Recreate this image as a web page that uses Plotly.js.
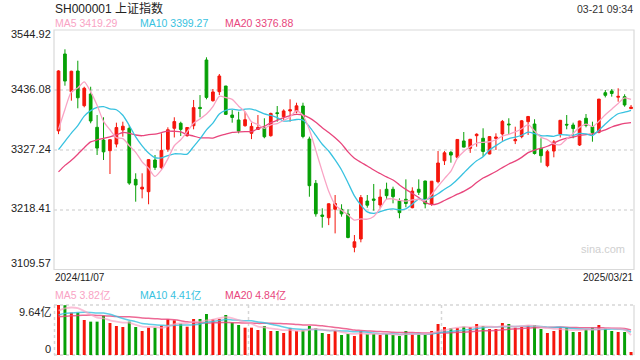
<!DOCTYPE html>
<html>
<head>
<meta charset="utf-8">
<script src="https://cdn.plot.ly/plotly-3.0.1.min.js"></script>
<style>html,body{margin:0;padding:0;background:#fff;}#chart{width:640px;height:360px;}</style>
</head>
<body>
<div id="chart"></div>
<script>
// ---- data ----
const dates = ["2024/11/07","2024/11/08","2024/11/11","2024/11/12","2024/11/13","2024/11/14","2024/11/15","2024/11/18","2024/11/19","2024/11/20",
"2024/11/21","2024/11/22","2024/11/25","2024/11/26","2024/11/27","2024/11/28","2024/11/29","2024/12/02","2024/12/03","2024/12/04",
"2024/12/05","2024/12/06","2024/12/09","2024/12/10","2024/12/11","2024/12/12","2024/12/13","2024/12/16","2024/12/17","2024/12/18",
"2024/12/19","2024/12/20","2024/12/23","2024/12/24","2024/12/25","2024/12/26","2024/12/27","2024/12/30","2024/12/31","2025/01/02",
"2025/01/03","2025/01/06","2025/01/07","2025/01/08","2025/01/09","2025/01/10","2025/01/13","2025/01/14","2025/01/15","2025/01/16",
"2025/01/17","2025/01/20","2025/01/21","2025/01/22","2025/01/23","2025/01/24","2025/01/27","2025/02/05","2025/02/06","2025/02/07",
"2025/02/10","2025/02/11","2025/02/12","2025/02/13","2025/02/14","2025/02/17","2025/02/18","2025/02/19","2025/02/20","2025/02/21",
"2025/02/24","2025/02/25","2025/02/26","2025/02/27","2025/02/28","2025/03/03","2025/03/04","2025/03/05","2025/03/06","2025/03/07",
"2025/03/10","2025/03/11","2025/03/12","2025/03/13","2025/03/14","2025/03/17","2025/03/18","2025/03/19","2025/03/20","2025/03/21"];

const opens = [3362.0,3501.4,3433.0,3470.5,3407.6,3428.8,3368.4,3345.4,3326.0,3338.0,
3363.5,3366.6,3274.0,3256.5,3251.6,3309.1,3295.2,3328.5,3366.6,3375.7,
3353.2,3371.3,3404.5,3490.5,3416.7,3433.0,3443.3,3390.7,3381.7,3371.3,
3357.5,3364.6,3367.7,3353.2,3394.8,3387.7,3398.0,3396.7,3407.0,3347.2,
3266.8,3209.3,3204.4,3219.7,3219.7,3211.2,3150.8,3165.8,3234.7,3238.4,
3227.5,3256.0,3256.0,3234.7,3237.8,3222.6,3256.0,3271.0,3228.8,3269.8,
3307.8,3323.0,3314.0,3343.6,3330.3,3353.2,3348.5,3320.0,3348.3,3356.3,
3374.4,3344.0,3351.4,3378.6,3374.4,3330.3,3298.8,3325.4,3356.3,3373.8,
3372.6,3336.3,3384.8,3369.5,3359.3,3431.2,3434.3,3423.0,3424.0,3402.3];

const highs = [3472.0,3509.9,3471.0,3489.2,3442.0,3442.0,3390.7,3386.6,3346.6,3376.8,
3378.6,3372.6,3285.0,3285.0,3310.4,3318.2,3357.5,3368.4,3386.6,3378.6,
3368.4,3418.0,3426.9,3495.4,3437.9,3465.1,3443.5,3399.8,3396.7,3396.7,
3376.8,3390.7,3384.8,3395.0,3407.0,3401.0,3419.2,3413.0,3413.0,3351.4,
3272.8,3221.5,3230.5,3245.6,3228.8,3219.7,3173.0,3245.6,3245.6,3265.6,
3256.0,3268.0,3260.7,3239.6,3274.0,3259.6,3274.0,3271.5,3270.9,3325.4,
3325.4,3325.4,3346.6,3359.9,3346.9,3357.5,3366.6,3352.6,3357.5,3381.7,
3384.8,3369.5,3381.7,3389.0,3383.0,3348.5,3327.3,3345.4,3381.7,3390.7,
3376.8,3380.5,3392.5,3378.6,3419.9,3436.1,3437.9,3439.2,3428.3,3408.9];

const lows = [3356.0,3443.9,3416.7,3402.9,3404.7,3375.7,3318.2,3309.1,3283.7,3332.0,
3351.4,3264.0,3233.5,3239.6,3228.8,3291.0,3292.0,3324.0,3350.0,3352.6,
3351.4,3364.8,3386.6,3419.2,3414.9,3427.0,3390.7,3376.8,3357.5,3369.5,
3347.0,3363.5,3348.5,3351.4,3378.6,3381.7,3378.6,3393.8,3348.5,3242.5,
3206.3,3186.3,3191.0,3176.0,3206.3,3167.0,3141.7,3159.8,3222.6,3217.2,
3221.5,3237.8,3230.5,3203.4,3223.3,3221.5,3245.6,3221.5,3226.0,3266.8,
3300.0,3304.2,3312.0,3332.0,3322.0,3333.2,3315.0,3319.5,3327.3,3344.0,
3356.3,3338.0,3348.5,3354.5,3319.0,3304.2,3296.0,3314.0,3350.0,3364.8,
3348.5,3334.5,3368.4,3342.3,3357.5,3422.7,3424.0,3414.9,3405.8,3401.8];

const closes = [3470.66,3452.30,3470.07,3421.97,3439.28,3379.84,3330.73,3323.85,3346.01,3367.99,
3370.40,3267.19,3263.76,3259.76,3309.78,3295.70,3326.46,3363.98,3378.81,3364.65,
3368.07,3404.08,3402.53,3422.66,3432.49,3461.50,3391.88,3386.33,3361.49,3382.21,
3370.03,3368.07,3351.26,3393.53,3393.35,3398.08,3400.14,3407.33,3351.76,3262.56,
3211.43,3206.92,3229.64,3230.17,3211.39,3168.52,3160.76,3240.94,3227.12,3236.03,
3241.82,3244.38,3242.62,3213.62,3230.16,3252.63,3250.60,3229.49,3270.66,3303.67,
3322.17,3318.06,3346.39,3332.48,3346.72,3355.83,3324.49,3351.54,3350.78,3379.11,
3373.03,3346.04,3380.21,3388.06,3320.90,3316.93,3324.21,3341.96,3381.10,3372.55,
3366.16,3379.83,3371.92,3358.73,3419.56,3426.43,3429.76,3424.50,3408.95,3404.90];

// closes of the 19 sessions before the first candle (feed the moving averages)
const prevCloses = [3217.74,3284.32,3201.29,3202.95,3169.38,3261.56,3268.11,3285.87,3302.80,3280.26,
3299.70,3322.20,3286.41,3266.24,3279.82,3272.01,3310.21,3386.99,3383.81];

// volume in 亿
const volumes = [9.64,9.60,8.16,8.16,6.75,6.43,6.43,7.58,6.17,5.59,
5.40,6.43,5.40,4.63,5.27,5.27,5.66,6.88,6.68,6.04,
5.46,6.94,6.94,7.90,6.88,6.94,7.71,6.23,5.78,5.27,
5.27,4.82,5.59,4.63,4.63,4.24,5.14,4.63,4.76,5.59,
5.14,4.24,4.05,4.69,3.86,4.05,3.66,4.63,4.05,4.05,
3.86,4.05,3.86,3.66,4.63,3.98,3.98,3.98,4.63,5.98,
5.40,5.14,5.20,5.46,5.40,5.98,5.59,5.01,5.01,6.17,
5.98,5.27,5.40,5.66,5.78,5.01,4.24,4.63,5.33,5.27,
4.43,4.43,5.01,5.27,5.78,5.14,4.63,4.43,4.43,0.58];
const prevVolumes = [7.5,6.8,6.6,6.0,5.8,8.0,8.3,7.5,7.4,6.3,6.6,7.2,7.4,6.3,6.9,7.6,7.2,8.8,9.6];

const priceTicks = [3544.92,3436.08,3327.24,3218.41,3109.57];
const priceTickText = ["3544.92","3436.08","3327.24","3218.41","3109.57"];
const volTicks = [9.64, 0];
const volTickText = ["9.64亿","0"];
const titleText = "SH000001 上证指数";
const timeText = "03-21 09:34";
const maLabels = ["MA5 3419.29","MA10 3399.27","MA20 3376.88"];
const volMaLabels = ["MA5 3.82亿","MA10 4.41亿","MA20 4.84亿"];

// ---- styling ----
const RED = "#f5160c", GREEN = "#06a006";
const C_MA5 = "#f9a3c4", C_MA10 = "#38c2e0", C_MA20 = "#e8457c";
const FONT = "'Liberation Sans', Arial, 'Noto Sans CJK SC', sans-serif";
const W = 640, H = 360;
const px = v => v / W, py = v => 1 - v / H;

function movingAvg(vals, prev, n) {
  const all = prev.concat(vals), off = prev.length;
  return vals.map((_, i) => {
    let s = 0;
    for (let k = 0; k < n; k++) s += all[off + i - k];
    return s / n;
  });
}

const volColors = closes.map((c, i) => c >= opens[i] ? RED : GREEN);

const traces = [
  {type: "candlestick", x: dates, open: opens, high: highs, low: lows, close: closes,
   xaxis: "x", yaxis: "y", hoverinfo: "skip", whiskerwidth: 0,
   increasing: {line: {color: RED, width: 1}, fillcolor: RED},
   decreasing: {line: {color: GREEN, width: 1}, fillcolor: GREEN}},
  {type: "scatter", mode: "lines", x: dates, y: movingAvg(closes, prevCloses, 20), xaxis: "x", yaxis: "y",
   line: {color: C_MA20, width: 1.3, shape: "spline", smoothing: 0.7}},
  {type: "scatter", mode: "lines", x: dates, y: movingAvg(closes, prevCloses, 10), xaxis: "x", yaxis: "y",
   line: {color: C_MA10, width: 1.3, shape: "spline", smoothing: 0.7}},
  {type: "scatter", mode: "lines", x: dates, y: movingAvg(closes, prevCloses, 5), xaxis: "x", yaxis: "y",
   line: {color: C_MA5, width: 1.3, shape: "spline", smoothing: 0.7}},
  {type: "bar", x: dates, y: volumes, xaxis: "x2", yaxis: "y2", width: 0.46,
   marker: {color: volColors, line: {width: 0}}, hoverinfo: "skip"},
  {type: "scatter", mode: "lines", x: dates, y: movingAvg(volumes, prevVolumes, 20), xaxis: "x2", yaxis: "y2",
   opacity: 0.8, line: {color: C_MA20, width: 1.5, shape: "spline", smoothing: 0.8}},
  {type: "scatter", mode: "lines", x: dates, y: movingAvg(volumes, prevVolumes, 10), xaxis: "x2", yaxis: "y2",
   opacity: 0.8, line: {color: C_MA10, width: 1.5, shape: "spline", smoothing: 0.8}},
  {type: "scatter", mode: "lines", x: dates, y: movingAvg(volumes, prevVolumes, 5), xaxis: "x2", yaxis: "y2",
   opacity: 0.7, line: {color: C_MA5, width: 1.8, shape: "spline", smoothing: 0.8}}
];

const xDom = [px(54), px(634)];
const xRange = [-0.7, 89.46];

const ann = [];
function txt(text, x, y, xanchor, size, color, extra) {
  ann.push(Object.assign({text: text, x: x, y: y, xref: "paper", yref: "paper", xanchor: xanchor, yanchor: "middle",
    showarrow: false, font: {family: FONT, size: size, color: color}, borderpad: 0}, extra || {}));
}
txt(titleText, px(54), py(8), "left", 12, "#222");
txt(timeText, px(634), py(9), "right", 10.5, "#333");
const maCols = [C_MA5, C_MA10, C_MA20];
const maX = [54, 139, 224];
maLabels.forEach((t, i) => txt(t, px(maX[i]), py(23.5), "left", 10.5, maCols[i]));
volMaLabels.forEach((t, i) => txt(t, px(maX[i]), py(295), "left", 10.5, maCols[i]));
txt(dates[0], px(54), py(277.5), "left", 10, "#222");
txt(dates[dates.length - 1], px(634), py(277.5), "right", 10, "#222");
txt("sina.com", px(603), py(249), "center", 11, "#cfcfcf");

const priceShift = [-4, 1, 1.5, 2, 7];
priceTicks.forEach((v, i) => ann.push({text: priceTickText[i], x: px(52), xref: "paper", y: v, yref: "y",
  xanchor: "right", yanchor: "middle", yshift: priceShift[i], showarrow: false, borderpad: 0,
  font: {family: FONT, size: 11, color: "#222"}}));
const volShift = [-6.5, 6];
volTicks.forEach((v, i) => ann.push({text: volTickText[i], x: px(52), xref: "paper", y: v, yref: "y2",
  xanchor: "right", yanchor: "middle", yshift: volShift[i], showarrow: false, borderpad: 0,
  font: {family: FONT, size: 11, color: "#222"}}));

const GRID = "#d6d6d6";
function pline(x0, y0, x1, y1, color, dash, w) {
  return {type: "line", xref: "paper", yref: "paper", x0: px(x0), y0: py(y0), x1: px(x1), y1: py(y1),
    line: {color: color, width: w || 1, dash: dash || "solid"}, layer: "below"};
}
const shapes = [
  {type: "rect", xref: "paper", yref: "paper", x0: px(54), x1: px(634), y0: py(269.5), y1: py(30),
   line: {color: "#d9d9d9", width: 1.2}, layer: "above"},
  pline(54, 305, 634, 305, GRID, "dot", 1.5),
  pline(54, 355, 634, 355, GRID, "dot", 1.5),
  pline(54.5, 305, 54.5, 355, GRID, "dot", 1.5),
  pline(248.5, 305, 248.5, 355, GRID, "dot", 1.5),
  pline(441.5, 305, 441.5, 355, GRID, "dot", 1.5),
  pline(634, 305, 634, 355, "#d9d9d9", "solid", 1.2)
];

const layout = {
  width: W, height: H, margin: {l: 0, r: 0, t: 0, b: 0},
  paper_bgcolor: "#fff", plot_bgcolor: "rgba(0,0,0,0)", showlegend: false,
  boxgap: 0.4, hovermode: false,
  xaxis: {domain: xDom, range: xRange, type: "category", anchor: "y", showticklabels: false, showgrid: false,
    zeroline: false, showline: false, ticks: "", rangeslider: {visible: false}, fixedrange: true},
  yaxis: {domain: [py(270), py(30)], range: [3109.57, 3544.92], anchor: "x", tickmode: "array",
    tickvals: [priceTicks[1], priceTicks[2], priceTicks[3]], showticklabels: false, showgrid: true,
    gridcolor: "#e4e4e4", griddash: "dot", gridwidth: 1.5, zeroline: false, showline: false, ticks: "", fixedrange: true},
  xaxis2: {domain: xDom, range: xRange, type: "category", anchor: "y2", showticklabels: false, showgrid: false,
    zeroline: false, showline: false, ticks: "", fixedrange: true},
  yaxis2: {domain: [py(355), py(305)], range: [0, 9.64], anchor: "x2", showticklabels: false, showgrid: false,
    zeroline: false, showline: false, ticks: "", fixedrange: true},
  annotations: ann, shapes: shapes
};

Plotly.newPlot("chart", traces, layout, {staticPlot: true, displayModeBar: false});
</script>
</body>
</html>
